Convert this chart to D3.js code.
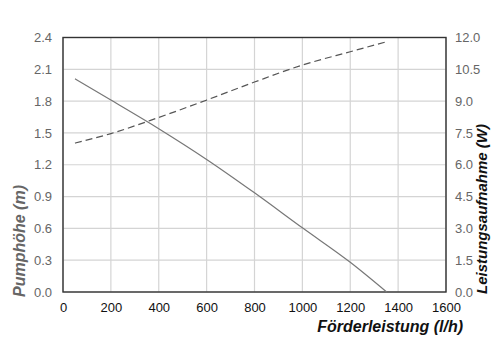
<!DOCTYPE html>
<html>
<head>
<meta charset="utf-8">
<script src="https://cdn.jsdelivr.net/npm/d3@7"></script>
<style>
  body { margin: 0; background: #fff; }
  text { font-family: "Liberation Sans", Arial, sans-serif; }
</style>
</head>
<body>
<svg id="chart"></svg>
<script>
// Förderleistung (l/h)
const flow = [50, 200, 400, 600, 800, 1000, 1200, 1352]
// Pumphöhe (m), linke Achse
const head = [2.01, 1.81, 1.54, 1.25, 0.935, 0.605, 0.28, 0]
// Leistungsaufnahme (W), rechte Achse
const power = [7.02, 7.47, 8.23, 9.05, 9.9, 10.7, 11.33, 11.8]

const xTicks = [0, 200, 400, 600, 800, 1000, 1200, 1400, 1600]
const leftTicks = [0, 0.3, 0.6, 0.9, 1.2, 1.5, 1.8, 2.1, 2.4]
const rightTicks = [0, 1.5, 3, 4.5, 6, 7.5, 9, 10.5, 12]

buildChart()

function buildChart() {
    const width = 500
    const height = 347
    const m = { left: 63, right: 54, top: 37.5, bottom: 55 }

    const svg = d3.select('#chart')
        .attr('width', width)
        .attr('height', height)

    const x = d3.scaleLinear().domain([0, 1600]).range([m.left, width - m.right])
    const yL = d3.scaleLinear().domain([0, 2.4]).range([height - m.bottom, m.top])
    const yR = d3.scaleLinear().domain([0, 12]).range([height - m.bottom, m.top])

    // grid
    svg.append('g')
        .selectAll('line')
        .data(xTicks)
        .join('line')
        .attr('x1', d => x(d)).attr('x2', d => x(d))
        .attr('y1', m.top).attr('y2', height - m.bottom)
        .style('stroke', '#d4d4d4')
        .style('stroke-width', 1.2)

    svg.append('g')
        .selectAll('line')
        .data(leftTicks)
        .join('line')
        .attr('x1', m.left).attr('x2', width - m.right)
        .attr('y1', d => yL(d)).attr('y2', d => yL(d))
        .style('stroke', '#d4d4d4')
        .style('stroke-width', 1.2)

    // frame
    svg.append('rect')
        .attr('x', m.left).attr('y', m.top)
        .attr('width', width - m.left - m.right)
        .attr('height', height - m.top - m.bottom)
        .style('fill', 'none')
        .style('stroke', '#333')
        .style('stroke-width', 1.4)

    // axes
    const fmt = d3.format('.1f')

    const bottom = svg.append('g')
        .attr('transform', `translate(0,${height - m.bottom})`)
        .call(d3.axisBottom(x).tickValues(xTicks).tickFormat(d3.format('d')).tickSize(0).tickPadding(11))
    bottom.select('.domain').remove()
    bottom.selectAll('text')
        .style('font-size', '13px')
        .style('fill', '#111')

    const left = svg.append('g')
        .attr('transform', `translate(${m.left},0)`)
        .call(d3.axisLeft(yL).tickValues(leftTicks).tickFormat(fmt).tickSize(0).tickPadding(11))
    left.select('.domain').remove()
    left.selectAll('text')
        .style('font-size', '13px')
        .style('fill', '#666')

    const right = svg.append('g')
        .attr('transform', `translate(${width - m.right},0)`)
        .call(d3.axisRight(yR).tickValues(rightTicks).tickFormat(fmt).tickSize(0).tickPadding(9))
    right.select('.domain').remove()
    right.selectAll('text')
        .style('font-size', '13px')
        .style('fill', '#666')

    // curves
    const headLine = d3.line()
        .x((d, i) => x(flow[i]))
        .y(d => yL(d))
        .curve(d3.curveMonotoneX)

    const powerLine = d3.line()
        .x((d, i) => x(flow[i]))
        .y(d => yR(d))
        .curve(d3.curveMonotoneX)

    svg.append('path')
        .attr('d', headLine(head))
        .style('fill', 'none')
        .style('stroke', '#777')
        .style('stroke-width', 1.2)

    svg.append('path')
        .attr('d', powerLine(power))
        .style('fill', 'none')
        .style('stroke', '#555')
        .style('stroke-width', 1.2)
        .style('stroke-dasharray', '7 4')

    // titles
    svg.append('text')
        .attr('x', 463).attr('y', 332)
        .attr('text-anchor', 'end')
        .style('font-size', '16px')
        .style('font-weight', 'bold')
        .style('font-style', 'italic')
        .style('fill', '#111')
        .text('Förderleistung (l/h)')

    svg.append('text')
        .attr('transform', 'translate(25,297) rotate(-90)')
        .attr('text-anchor', 'start')
        .style('font-size', '16px')
        .style('font-weight', 'bold')
        .style('font-style', 'italic')
        .style('fill', '#666')
        .text('Pumphöhe (m)')

    svg.append('text')
        .attr('transform', 'translate(487,294) rotate(-90)')
        .attr('text-anchor', 'start')
        .style('font-size', '15px')
        .style('font-weight', 'bold')
        .style('font-style', 'italic')
        .style('fill', '#111')
        .text('Leistungsaufnahme (W)')
}
</script>
</body>
</html>
